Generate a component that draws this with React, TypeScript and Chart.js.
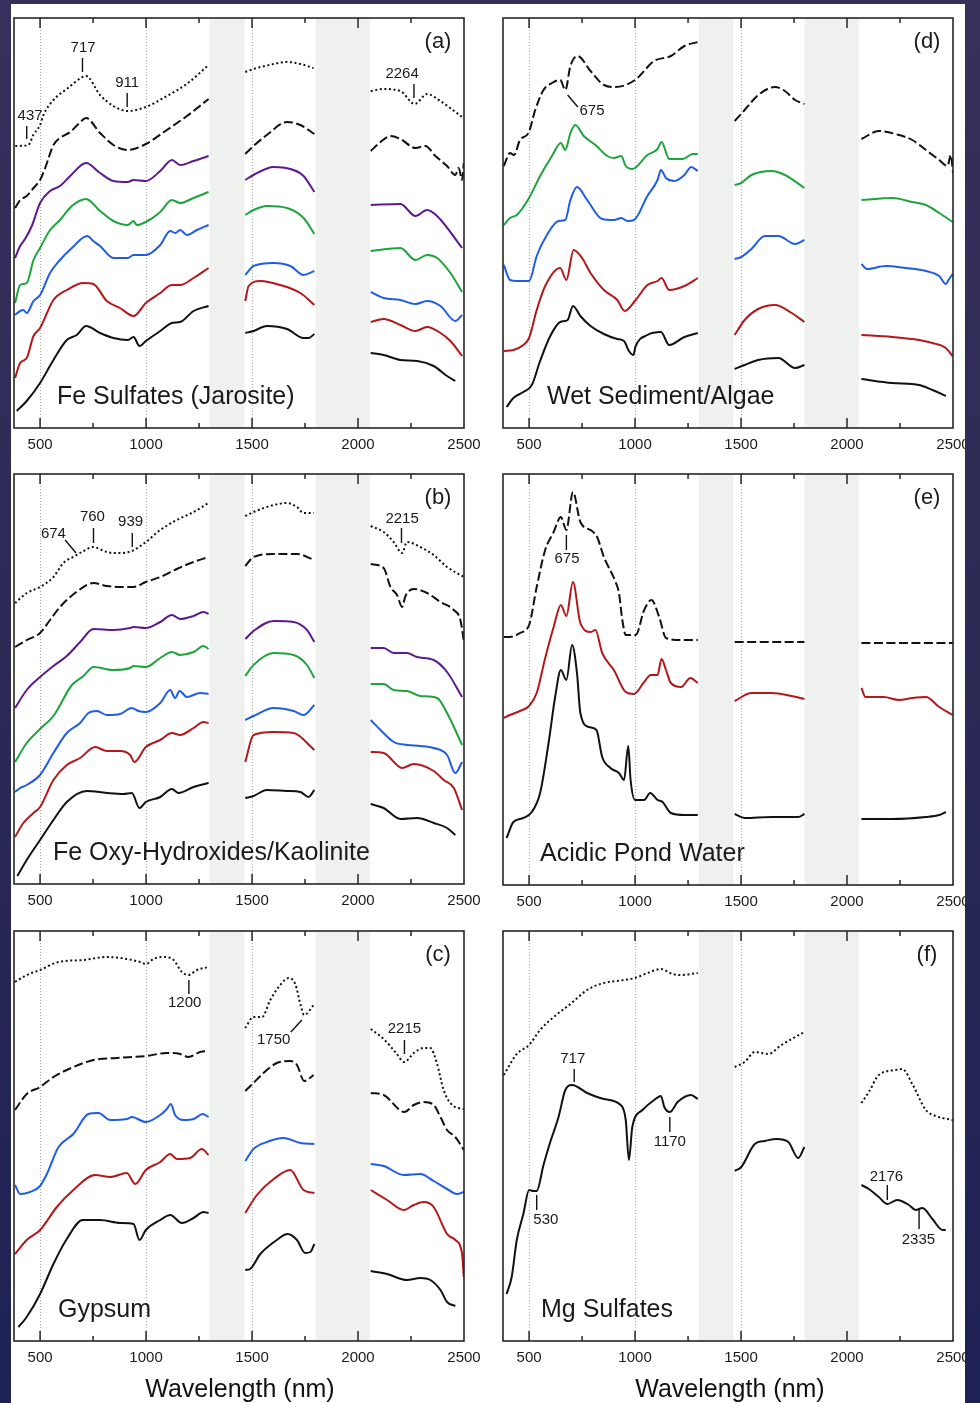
import React, { useEffect, useRef } from "react";
import { Chart, registerables } from "chart.js";

Chart.register(...registerables);

type Pt = [number, number];

// ---------- axis data ----------
const X_MIN = 377;
const X_MAX = 2500;
const TICK_LABELS = [500, 1000, 1500, 2000, 2500];
const MAJOR_TICKS = [500, 1000, 1500, 2000];
const MINOR_TICKS = [750, 1250, 1750, 2250];
const GUIDE_LINES = [500, 1000, 1500];
const GAP_BANDS: Pt[] = [[1300, 1465], [1800, 2057]];
const AXIS_TITLE = "Wavelength (nm)";

// ---------- colours ----------
const BLACK = "#111111";
const PURPLE = "#5c1a8e";
const GREEN = "#1ea43c";
const BLUE = "#1f5de6";
const RED = "#b3181b";

// ---------- (a) Fe Sulfates (Jarosite) ----------
const A_dot: Pt[] = [[383,282],[445,283],[468,293],[500,303],[516,313],[563,328],[626,339],[700,351],[717,352],[783,333],[846,322],[914,317],[999,321],[1098,332],[1192,344],[1295,363],[1468,356],[1507,359],[1602,364],[1665,366],[1728,364],[1790,360],[2060,337],[2121,339],[2200,337],[2267,324],[2326,334],[2388,327],[2491,311]];
const A_dash: Pt[] = [[382,220],[406,228],[437,232],[469,240],[500,248],[524,260],[563,283],[594,290],[642,296],[681,304],[717,310],[783,295],[846,283],[914,278],[999,284],[1098,298],[1193,312],[1295,329],[1468,274],[1507,282],[1570,293],[1665,306],[1728,303],[1794,294],[2060,277],[2106,286],[2153,292],[2200,289],[2271,280],[2318,282],[2365,272],[2420,262],[2459,253],[2475,260],[2491,248],[2499,265]];
const A_purple: Pt[] = [[382,170],[406,182],[429,189],[461,202],[500,225],[547,237],[594,242],[642,252],[717,265],[783,255],[846,247],[914,246],[941,248],[999,247],[1067,257],[1122,268],[1161,263],[1224,267],[1295,272],[1468,248],[1507,253],[1602,261],[1696,258],[1743,252],[1794,236],[2060,223],[2200,224],[2271,212],[2326,218],[2373,212],[2491,180]];
const A_green: Pt[] = [[382,125],[406,143],[437,145],[469,168],[500,180],[547,198],[594,208],[650,222],[717,229],[783,217],[846,207],[914,203],[941,207],[956,203],[999,206],[1067,216],[1122,228],[1161,225],[1224,230],[1295,236],[1468,213],[1507,218],[1570,222],[1665,220],[1743,210],[1794,194],[2060,177],[2200,180],[2271,168],[2326,173],[2373,170],[2436,155],[2491,136]];
const A_blue: Pt[] = [[382,113],[406,117],[421,118],[437,115],[469,127],[500,133],[547,155],[594,168],[650,180],[723,192],[751,187],[783,182],[846,170],[914,170],[941,173],[999,173],[1067,183],[1114,197],[1138,195],[1161,198],[1193,193],[1240,198],[1295,203],[1468,153],[1507,162],[1602,165],[1681,162],[1743,153],[1794,157],[2060,136],[2121,130],[2200,128],[2271,124],[2326,127],[2389,122],[2459,107],[2491,113]];
const A_red: Pt[] = [[382,50],[406,65],[437,70],[469,92],[500,100],[563,128],[626,138],[704,145],[751,144],[815,127],[877,120],[941,112],[999,125],[1067,135],[1122,143],[1161,143],[1224,150],[1295,160],[1468,127],[1484,142],[1539,147],[1633,143],[1728,135],[1794,123],[2060,106],[2121,109],[2200,103],[2271,97],[2326,101],[2389,95],[2436,87],[2491,72]];
const A_black: Pt[] = [[390,17],[437,27],[500,45],[563,68],[626,88],[673,93],[717,102],[783,95],[846,90],[914,88],[941,91],[969,82],[999,87],[1067,97],[1122,105],[1161,106],[1224,117],[1295,122],[1468,95],[1507,97],[1570,102],[1665,99],[1743,90],[1767,90],[1794,94],[2060,75],[2121,73],[2200,68],[2279,67],[2357,62],[2420,52],[2459,47]];

// ---------- (b) Fe Oxy-Hydroxides/Kaolinite ----------
const B_dot: Pt[] = [[382,281],[437,291],[500,297],[563,307],[610,321],[665,328],[705,333],[749,337],[815,332],[878,331],[933,333],[999,342],[1067,354],[1145,364],[1224,372],[1295,381],[1468,368],[1507,372],[1602,379],[1665,381],[1712,377],[1743,371],[1791,371],[2060,358],[2121,352],[2168,342],[2208,331],[2231,342],[2294,337],[2357,329],[2420,317],[2499,307]];
const B_dash: Pt[] = [[382,237],[437,244],[500,251],[547,264],[594,277],[665,291],[752,301],[815,298],[878,297],[941,297],[999,302],[1067,307],[1145,315],[1224,322],[1295,327],[1468,318],[1507,327],[1602,330],[1712,330],[1794,324],[2060,320],[2121,316],[2153,297],[2184,289],[2208,277],[2224,288],[2263,295],[2326,291],[2389,282],[2452,274],[2483,264],[2500,242]];
const B_purple: Pt[] = [[382,176],[437,194],[500,207],[563,218],[626,228],[689,242],[752,255],[846,254],[925,256],[941,257],[999,256],[1067,262],[1122,269],[1161,265],[1224,268],[1271,272],[1295,270],[1468,245],[1507,253],[1602,263],[1696,262],[1759,254],[1794,242],[2060,236],[2121,236],[2168,231],[2231,231],[2278,227],[2357,224],[2420,212],[2491,187]];
const B_green: Pt[] = [[382,122],[437,141],[500,155],[563,168],[650,199],[705,208],[752,217],[846,214],[925,216],[941,218],[999,217],[1067,226],[1122,232],[1161,229],[1224,232],[1271,238],[1295,235],[1468,208],[1507,219],[1602,231],[1696,229],[1759,219],[1794,206],[2060,200],[2121,200],[2168,194],[2231,193],[2294,188],[2373,186],[2420,171],[2491,139]];
const B_blue: Pt[] = [[382,92],[406,96],[437,99],[500,109],[563,131],[626,151],[689,161],[728,171],[768,173],[815,169],[878,170],[933,176],[964,173],[999,172],[1067,181],[1114,194],[1137,186],[1158,193],[1193,187],[1255,191],[1295,190],[1468,164],[1507,168],[1602,176],[1696,173],[1743,169],[1794,179],[2060,164],[2106,154],[2168,142],[2231,139],[2294,138],[2357,136],[2420,129],[2459,111],[2491,122]];
const B_red: Pt[] = [[382,47],[421,61],[469,71],[500,77],[563,104],[626,119],[689,126],[760,137],[815,133],[878,133],[925,129],[945,122],[999,137],[1067,144],[1122,151],[1161,149],[1224,156],[1271,162],[1295,161],[1468,122],[1507,149],[1602,152],[1696,151],[1794,134],[2060,132],[2121,131],[2208,116],[2263,120],[2357,113],[2404,104],[2452,96],[2491,74]];
const B_black: Pt[] = [[393,8],[437,24],[500,44],[563,64],[626,82],[720,93],[815,91],[893,90],[933,91],[969,76],[999,82],[1067,87],[1122,95],[1153,91],[1224,97],[1295,101],[1468,86],[1507,88],[1570,94],[1665,93],[1728,92],[1767,87],[1794,94],[2060,80],[2121,76],[2200,65],[2279,66],[2357,61],[2420,56],[2459,49]];

// ---------- (c) Gypsum ----------
const C_dot: Pt[] = [[382,359],[437,366],[500,371],[587,379],[705,381],[815,384],[909,382],[972,379],[999,377],[1035,382],[1082,384],[1130,381],[1169,369],[1200,366],[1240,371],[1295,374],[1468,313],[1507,324],[1547,324],[1586,341],[1633,356],[1673,363],[1704,357],[1728,337],[1746,326],[1791,336],[2060,312],[2121,302],[2176,289],[2219,279],[2263,288],[2310,293],[2341,293],[2373,277],[2404,251],[2444,236],[2499,232]];
const C_dash: Pt[] = [[382,231],[437,247],[500,254],[563,264],[657,274],[752,281],[862,283],[999,285],[1098,288],[1161,287],[1200,284],[1255,289],[1295,290],[1468,250],[1507,258],[1554,268],[1617,278],[1680,280],[1712,276],[1746,260],[1791,266],[2060,248],[2121,246],[2219,229],[2263,236],[2310,239],[2357,236],[2389,224],[2420,211],[2459,204],[2499,191]];
const C_blue: Pt[] = [[382,156],[406,147],[453,149],[500,155],[532,167],[587,194],[657,207],[728,227],[775,228],[831,221],[909,222],[933,224],[999,219],[1067,226],[1098,232],[1117,237],[1137,226],[1177,221],[1224,222],[1268,227],[1295,224],[1468,180],[1507,192],[1570,199],[1649,203],[1728,198],[1794,197],[2060,177],[2121,175],[2216,166],[2294,167],[2357,160],[2420,152],[2467,147],[2499,149]];
const C_red: Pt[] = [[382,87],[437,101],[500,111],[579,134],[657,151],[760,166],[831,164],[909,168],[949,157],[999,171],[1067,179],[1114,187],[1145,182],[1208,183],[1263,192],[1295,186],[1468,128],[1523,146],[1602,162],[1680,171],[1743,151],[1794,148],[2060,151],[2137,141],[2216,131],[2263,136],[2310,139],[2357,134],[2420,107],[2459,101],[2491,87],[2499,64]];
const C_black: Pt[] = [[398,14],[437,24],[500,47],[563,77],[626,102],[701,121],[783,121],[878,118],[941,117],[969,101],[999,111],[1067,121],[1114,126],[1169,118],[1224,123],[1271,129],[1295,128],[1468,71],[1491,72],[1539,87],[1617,101],[1668,107],[1712,101],[1751,88],[1775,89],[1794,97],[2060,70],[2137,67],[2231,61],[2294,63],[2341,61],[2389,51],[2420,39],[2459,35]];

// ---------- (d) Wet Sediment/Algae ----------
const D_dash: Pt[] = [[381,262],[410,275],[429,273],[457,288],[497,295],[529,318],[568,338],[608,345],[647,348],[671,338],[695,362],[729,372],[790,357],[853,343],[908,341],[1000,348],[1090,367],[1169,372],[1233,382],[1296,386],[1470,307],[1517,318],[1581,333],[1660,341],[1707,337],[1755,328],[1799,324],[2068,289],[2150,297],[2245,293],[2308,288],[2372,278],[2435,268],[2474,262],[2490,273],[2500,255]];
const D_green: Pt[] = [[381,203],[410,210],[442,213],[500,230],[552,252],[608,272],[650,285],[671,278],[695,295],[718,303],[758,292],[813,283],[869,272],[900,270],[935,272],[956,262],[987,259],[1058,273],[1106,279],[1125,286],[1161,269],[1225,269],[1272,274],[1296,274],[1470,243],[1501,245],[1549,253],[1644,257],[1707,253],[1799,240],[2068,228],[2213,230],[2308,226],[2372,223],[2435,215],[2498,206]];
const D_blue: Pt[] = [[381,163],[410,148],[442,147],[500,147],[536,172],[584,193],[639,207],[671,208],[695,228],[726,241],[774,228],[845,209],[900,208],[935,210],[964,207],[995,208],[1058,232],[1106,248],[1122,258],[1146,250],[1185,247],[1233,253],[1265,261],[1296,257],[1470,169],[1501,171],[1549,179],[1612,192],[1676,192],[1755,184],[1799,188],[2068,164],[2095,159],[2182,162],[2277,160],[2372,157],[2435,152],[2466,144],[2482,149],[2498,154]];
const D_red: Pt[] = [[381,77],[426,78],[473,83],[500,90],[536,118],[576,142],[647,160],[676,148],[710,178],[750,170],[790,155],[853,138],[916,128],[951,117],[1003,128],[1058,143],[1106,147],[1125,150],[1161,138],[1233,142],[1296,150],[1470,93],[1517,108],[1581,119],[1660,123],[1739,115],[1799,106],[2068,93],[2213,91],[2340,88],[2403,85],[2466,80],[2498,72]];
const D_black: Pt[] = [[394,21],[426,30],[473,36],[513,43],[552,67],[600,92],[647,106],[682,108],[707,122],[742,112],[790,102],[853,94],[916,89],[948,87],[971,77],[992,73],[1003,82],[1058,93],[1122,96],[1161,83],[1233,91],[1296,95],[1470,59],[1517,63],[1581,68],[1676,70],[1755,60],[1799,63],[2068,49],[2213,45],[2340,43],[2403,38],[2466,32]];

// ---------- (e) Acidic Pond Water ----------
const E_dash: Pt[] = [[381,248],[410,248],[457,252],[500,260],[536,298],[576,335],[616,353],[650,368],[676,355],[707,393],[742,363],[797,354],[821,348],[853,328],[908,303],[924,292],[940,265],[956,250],[1003,250],[1043,275],[1077,285],[1114,268],[1146,247],[1217,245],[1296,245],[1470,243],[1640,243],[1799,243],[2068,242],[2280,242],[2500,242]];
const E_red: Pt[] = [[381,167],[410,170],[457,174],[500,179],[536,192],[576,227],[616,258],[650,280],[676,269],[707,303],[742,262],[791,253],[813,255],[845,232],[900,215],[956,193],[995,191],[1043,203],[1074,210],[1106,210],[1125,226],[1146,215],[1169,202],[1217,198],[1261,207],[1296,202],[1470,184],[1549,192],[1644,192],[1739,189],[1799,186],[2068,197],[2087,188],[2174,188],[2245,185],[2308,187],[2372,188],[2435,178],[2498,170]];
const E_black: Pt[] = [[394,47],[426,63],[473,67],[513,73],[552,92],[592,142],[623,188],[650,215],[676,205],[703,240],[726,212],[742,172],[782,158],[818,155],[845,128],[884,117],[924,112],[948,105],[968,139],[979,105],[1000,85],[1043,85],[1071,92],[1106,85],[1130,83],[1169,72],[1233,70],[1296,70],[1470,71],[1517,67],[1644,68],[1770,68],[1799,71],[2068,66],[2213,66],[2372,68],[2435,70],[2466,73]];

// ---------- (f) Mg Sulfates ----------
const F_dot: Pt[] = [[381,266],[442,287],[500,296],[552,311],[616,324],[695,337],[774,351],[853,358],[948,361],[1000,363],[1059,368],[1122,372],[1177,367],[1217,366],[1296,368],[1470,274],[1517,279],[1565,289],[1628,287],[1691,296],[1799,309],[2068,238],[2103,249],[2150,266],[2229,271],[2261,272],[2308,257],[2372,231],[2419,225],[2500,221]];
const F_black: Pt[] = [[394,47],[418,64],[442,101],[473,127],[500,151],[521,150],[536,150],[568,176],[600,199],[639,224],[671,251],[703,256],[774,248],[853,242],[932,236],[956,221],[971,181],[987,214],[1035,231],[1090,241],[1122,245],[1138,234],[1164,229],[1201,239],[1264,246],[1296,242],[1470,170],[1501,174],[1565,197],[1612,200],[1668,202],[1723,199],[1770,183],[1799,194],[2068,156],[2103,152],[2150,144],[2190,137],[2237,141],[2292,136],[2324,131],[2356,133],[2403,122],[2451,111],[2466,111]];

// ---------- feature labels: [label, text x, text y, line x1, y1, x2, y2] ----------
type Note = [string, number, number, number, number, number, number];
const A_notes: Note[] = [["437",453,312,437,302,437,289],["717",703,380,700,370,700,356],["911",911,345,911,335,911,321],["2264",2208,354,2264,344,2264,330]];
const B_notes: Note[] = [["674",563,350,618,344,670,331],["760",747,367,752,356,752,341],["939",927,362,935,351,935,337],["2215",2208,365,2205,356,2205,341]];
const C_notes: Note[] = [["1200",1182,338,1202,361,1202,347],["1750",1602,301,1735,321,1683,309],["2215",2219,312,2219,301,2219,287]];
const D_notes: Note[] = [["675",797,317,682,333,730,321]];
const E_notes: Note[] = [["675",679,326,676,350,676,335]];
const F_notes: Note[] = [["717",706,282,713,272,713,259],["530",579,121,536,146,536,131],["1170",1164,199,1164,224,1164,209],["2176",2186,164,2190,156,2190,141],["2335",2337,101,2340,131,2340,112]];

type Style = "solid" | "dash" | "dot";
type Curve = { data: Pt[]; color: string; style: Style };
type Panel = {
  letter: string; title: string; titleDx: number;
  left: number; top: number; width: number; height: number;
  curves: Curve[]; notes: Note[];
};

const PANELS: Panel[] = [
  { letter: "(a)", title: "Fe Sulfates (Jarosite)", titleDx: 43, left: 14, top: 18, width: 450, height: 410,
    curves: [
      { data: A_dot, color: BLACK, style: "dot" }, { data: A_dash, color: BLACK, style: "dash" },
      { data: A_purple, color: PURPLE, style: "solid" }, { data: A_green, color: GREEN, style: "solid" },
      { data: A_blue, color: BLUE, style: "solid" }, { data: A_red, color: RED, style: "solid" },
      { data: A_black, color: BLACK, style: "solid" }],
    notes: A_notes },
  { letter: "(b)", title: "Fe Oxy-Hydroxides/Kaolinite", titleDx: 39, left: 14, top: 474, width: 450, height: 410,
    curves: [
      { data: B_dot, color: BLACK, style: "dot" }, { data: B_dash, color: BLACK, style: "dash" },
      { data: B_purple, color: PURPLE, style: "solid" }, { data: B_green, color: GREEN, style: "solid" },
      { data: B_blue, color: BLUE, style: "solid" }, { data: B_red, color: RED, style: "solid" },
      { data: B_black, color: BLACK, style: "solid" }],
    notes: B_notes },
  { letter: "(c)", title: "Gypsum", titleDx: 44, left: 14, top: 931, width: 450, height: 410,
    curves: [
      { data: C_dot, color: BLACK, style: "dot" }, { data: C_dash, color: BLACK, style: "dash" },
      { data: C_blue, color: BLUE, style: "solid" }, { data: C_red, color: RED, style: "solid" },
      { data: C_black, color: BLACK, style: "solid" }],
    notes: C_notes },
  { letter: "(d)", title: "Wet Sediment/Algae", titleDx: 44, left: 503, top: 18, width: 450, height: 410,
    curves: [
      { data: D_dash, color: BLACK, style: "dash" }, { data: D_green, color: GREEN, style: "solid" },
      { data: D_blue, color: BLUE, style: "solid" }, { data: D_red, color: RED, style: "solid" },
      { data: D_black, color: BLACK, style: "solid" }],
    notes: D_notes },
  { letter: "(e)", title: "Acidic Pond Water", titleDx: 37, left: 503, top: 474, width: 450, height: 411,
    curves: [
      { data: E_dash, color: BLACK, style: "dash" }, { data: E_red, color: RED, style: "solid" },
      { data: E_black, color: BLACK, style: "solid" }],
    notes: E_notes },
  { letter: "(f)", title: "Mg Sulfates", titleDx: 38, left: 503, top: 931, width: 450, height: 410,
    curves: [
      { data: F_dot, color: BLACK, style: "dot" }, { data: F_black, color: BLACK, style: "solid" }],
    notes: F_notes },
];

const FONT = "'Liberation Sans', Arial, Helvetica, sans-serif";
const PAD_L = 20, PAD_R = 26, PAD_T = 8, PAD_B = 34;
const NAVY = "linear-gradient(180deg, #36305a 0%, #2b2a55 50%, #1e2154 100%)";

// Break a spectrum where it crosses one of the masked water bands.
function toPoints(pts: Pt[]) {
  const out: { x: number; y: number | null }[] = [];
  pts.forEach((p, i) => {
    if (i > 0) {
      const prev = pts[i - 1][0];
      for (const [a, b] of GAP_BANDS) {
        if (prev <= a + 10 && p[0] >= b - 10) out.push({ x: (a + b) / 2, y: null });
      }
    }
    out.push({ x: p[0], y: p[1] });
  });
  return out;
}

function makeDecor(panel: Panel) {
  return {
    id: "decor",
    beforeDatasetsDraw(chart: any) {
      const { ctx, chartArea: ca, scales } = chart;
      const x = scales.x;
      ctx.save();
      ctx.fillStyle = "#eff1ef";
      for (const [a, b] of GAP_BANDS) {
        const xa = x.getPixelForValue(a), xb = x.getPixelForValue(b);
        ctx.fillRect(xa, ca.top, xb - xa, ca.bottom - ca.top);
      }
      ctx.strokeStyle = "#a8a8a8";
      ctx.lineWidth = 1;
      ctx.setLineDash([1, 2]);
      for (const g of GUIDE_LINES) {
        const px = Math.round(x.getPixelForValue(g)) + 0.5;
        ctx.beginPath();
        ctx.moveTo(px, ca.top);
        ctx.lineTo(px, ca.bottom);
        ctx.stroke();
      }
      ctx.restore();
    },
    afterDatasetsDraw(chart: any) {
      const { ctx, chartArea: ca, scales } = chart;
      const x = scales.x, y = scales.y;
      ctx.save();
      ctx.strokeStyle = "#262626";
      ctx.lineWidth = 1.6;
      ctx.strokeRect(ca.left, ca.top, ca.right - ca.left, ca.bottom - ca.top);
      ctx.lineWidth = 1.5;
      const tick = (v: number, len: number) => {
        const px = x.getPixelForValue(v);
        ctx.beginPath();
        ctx.moveTo(px, ca.top); ctx.lineTo(px, ca.top + len);
        ctx.moveTo(px, ca.bottom); ctx.lineTo(px, ca.bottom - len);
        ctx.stroke();
      };
      MAJOR_TICKS.forEach((v) => tick(v, 10));
      MINOR_TICKS.forEach((v) => tick(v, 5));
      ctx.fillStyle = "#1a1a1a";
      ctx.font = `15px ${FONT}`;
      ctx.textAlign = "center";
      ctx.textBaseline = "middle";
      TICK_LABELS.forEach((v) => ctx.fillText(String(v), x.getPixelForValue(v), ca.bottom + 17));
      ctx.font = `22px ${FONT}`;
      ctx.fillText(panel.letter, ca.right - 26, ca.top + 24);
      ctx.font = `25px ${FONT}`;
      ctx.textAlign = "left";
      ctx.fillText(panel.title, ca.left + panel.titleDx, ca.bottom - 31);
      ctx.font = `15px ${FONT}`;
      ctx.textAlign = "center";
      ctx.strokeStyle = "#111";
      ctx.lineWidth = 1.4;
      for (const [t, tx, ty, x1, y1, x2, y2] of panel.notes) {
        ctx.beginPath();
        ctx.moveTo(x.getPixelForValue(x1), y.getPixelForValue(y1));
        ctx.lineTo(x.getPixelForValue(x2), y.getPixelForValue(y2));
        ctx.stroke();
        ctx.fillText(t, x.getPixelForValue(tx), y.getPixelForValue(ty));
      }
      ctx.restore();
    },
  };
}

function PanelChart({ panel }: { panel: Panel }) {
  const ref = useRef<HTMLCanvasElement>(null);
  const w = panel.width + PAD_L + PAD_R;
  const h = panel.height + PAD_T + PAD_B;
  useEffect(() => {
    const canvas = ref.current;
    if (!canvas) return;
    const chart = new Chart(canvas, {
      type: "line",
      data: {
        datasets: panel.curves.map((c) => ({
          data: toPoints(c.data) as any,
          borderColor: c.color,
          borderWidth: 2,
          borderDash: c.style === "dash" ? [9, 3.5] : c.style === "dot" ? [2, 2.6] : [],
          borderCapStyle: "butt",
          borderJoinStyle: "round",
          pointRadius: 0,
          fill: false,
          spanGaps: false,
          cubicInterpolationMode: "monotone",
        })),
      },
      options: {
        animation: false,
        responsive: false,
        maintainAspectRatio: false,
        devicePixelRatio: 1,
        events: [],
        layout: { padding: { left: PAD_L, right: PAD_R, top: PAD_T, bottom: PAD_B } },
        scales: {
          x: { type: "linear", min: X_MIN, max: X_MAX, display: false },
          y: { type: "linear", min: 0, max: panel.height, display: false },
        },
        plugins: { legend: { display: false }, tooltip: { enabled: false } },
      },
      plugins: [makeDecor(panel)],
    } as any);
    return () => chart.destroy();
  }, [panel]);
  return (
    <canvas
      ref={ref}
      width={w}
      height={h}
      style={{ position: "absolute", left: panel.left - PAD_L, top: panel.top - PAD_T, width: w, height: h, zIndex: 2 }}
    />
  );
}

export default function App() {
  return (
    <div style={{ position: "fixed", left: 0, top: 0, width: 980, height: 1403, overflow: "hidden", background: NAVY }}>
      <div style={{ position: "absolute", left: 11, top: 4, width: 954, height: 1399, background: "#ffffff" }} />
      {PANELS.map((p) => (
        <PanelChart key={p.letter} panel={p} />
      ))}
      {[240, 730].map((cx) => (
        <div
          key={cx}
          style={{
            position: "absolute", left: cx - 150, top: 1373, width: 300, height: 30, lineHeight: "30px",
            textAlign: "center", fontFamily: FONT, fontSize: 25, color: "#111", zIndex: 3,
          }}
        >
          {AXIS_TITLE}
        </div>
      ))}
      <div style={{ position: "absolute", left: 965, top: 0, width: 15, height: 1403, background: NAVY, zIndex: 5 }} />
      <div style={{ position: "absolute", left: 0, top: 0, width: 11, height: 1403, background: NAVY, zIndex: 5 }} />
    </div>
  );
}
